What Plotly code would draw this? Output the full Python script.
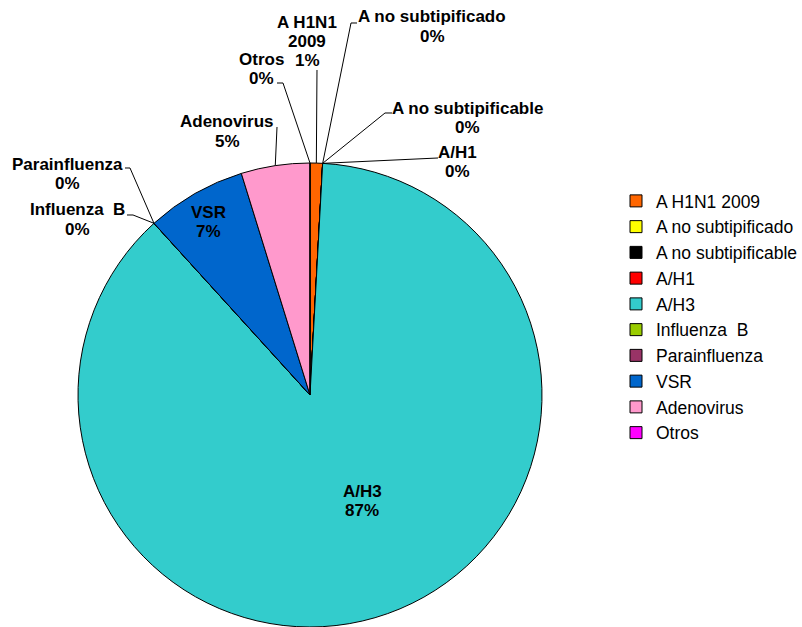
import math
import plotly.graph_objects as go

# Respiratory virus detections by type
categories = [
    "A H1N1 2009", "A no subtipificado", "A no subtipificable", "A/H1", "A/H3",
    "Influenza  B", "Parainfluenza", "VSR", "Adenovirus", "Otros",
]
counts = [2, 0, 0, 0, 201, 0, 0, 16, 11, 0]
colors = [
    "#FF6600", "#FFFF00", "#000000", "#FF0000", "#33CCCC",
    "#99CC00", "#993366", "#0066CC", "#FF99CC", "#FF00FF",
]

W, H = 802, 627
CX, CY, R = 310, 395, 232  # pie centre and radius in pixels
FONT = "Liberation Sans, Arial, sans-serif"


def paper(x, y):
    return x / W, 1 - y / H


def rim_point(frac):
    """Point on the pie rim at a cumulative fraction (clockwise from 12 o'clock)."""
    a = 2 * math.pi * frac
    return CX + R * math.sin(a), CY - R * math.cos(a)


total = sum(counts)
pcts = [int(c * 100 / total + 0.5) for c in counts]
cum_end = []
acc = 0
for c in counts:
    acc += c
    cum_end.append(acc / total)
cum_start = [e - c / total for e, c in zip(cum_end, counts)]

# label text block: centre x, first-line y; leader: elbow points before rim
label_layout = {
    "A H1N1 2009": dict(x=307, y=22, wrap=True, leader=[(317, 70)]),
    "A no subtipificado": dict(x=432, y=17, leader=[(357, 23), (351, 23)]),
    "A no subtipificable": dict(x=468, y=108, leader=[(392, 113), (385, 113)]),
    "A/H1": dict(x=458, y=152, leader=[(438, 158)]),
    "A/H3": dict(x=362, y=491, leader=None),
    "Influenza  B": dict(x=77, y=210, leader=[(127, 215), (133, 215)]),
    "Parainfluenza": dict(x=67, y=164, leader=[(125, 168), (130, 168)]),
    "VSR": dict(x=208, y=212, leader=None),
    "Adenovirus": dict(x=227, y=122, leader=[(277, 127)]),
    "Otros": dict(x=261, y=59, leader=[(277, 83), (283, 83)]),
}
LINE_STEP = 19.5

fig = go.Figure()
fig.add_trace(go.Pie(
    labels=categories,
    values=counts,
    marker=dict(colors=colors, line=dict(color="#000000", width=1)),
    sort=False,
    direction="clockwise",
    rotation=0,
    textinfo="none",
    hoverinfo="label+value+percent",
    domain=dict(x=[(CX - R) / W, (CX + R) / W], y=[0, 2 * R / H]),
    showlegend=True,
))

annotations = []
shapes = []
for i, name in enumerate(categories):
    spec = label_layout[name]
    if spec.get("wrap"):
        head, tail = name.rsplit(" ", 1)
        lines = [head, tail]
    else:
        lines = [name]
    lines.append(f"{pcts[i]}%")
    for k, txt in enumerate(lines):
        px, py = paper(spec["x"], spec["y"] + k * LINE_STEP)
        annotations.append(dict(
            x=px, y=py, xref="paper", yref="paper", text=f"<b>{txt}</b>",
            showarrow=False, xanchor="center", yanchor="middle",
            font=dict(family=FONT, size=17, color="#000000"),
        ))
    if spec["leader"]:
        frac = (cum_start[i] + cum_end[i]) / 2
        pts = spec["leader"] + [rim_point(frac)]
        path = ""
        for j, (x, y) in enumerate(pts):
            qx, qy = paper(x, y)
            path += ("M" if j == 0 else "L") + f"{qx:.5f},{qy:.5f} "
        shapes.append(dict(type="path", path=path.strip(), xref="paper", yref="paper",
                           line=dict(color="#000000", width=1)))

fig.update_layout(
    width=W, height=H,
    margin=dict(l=0, r=0, t=0, b=0, autoexpand=False),
    paper_bgcolor="#FFFFFF",
    plot_bgcolor="#FFFFFF",
    font=dict(family=FONT, color="#000000"),
    legend=dict(
        xref="container", yref="container",
        x=616 / W, y=1 - 183 / H, xanchor="left", yanchor="top",
        font=dict(family=FONT, size=17.5, color="#000000"),
        bgcolor="rgba(0,0,0,0)", traceorder="normal",
        itemclick=False, itemdoubleclick=False,
    ),
    annotations=annotations,
    shapes=shapes,
)

fig.write_html("out.html")
